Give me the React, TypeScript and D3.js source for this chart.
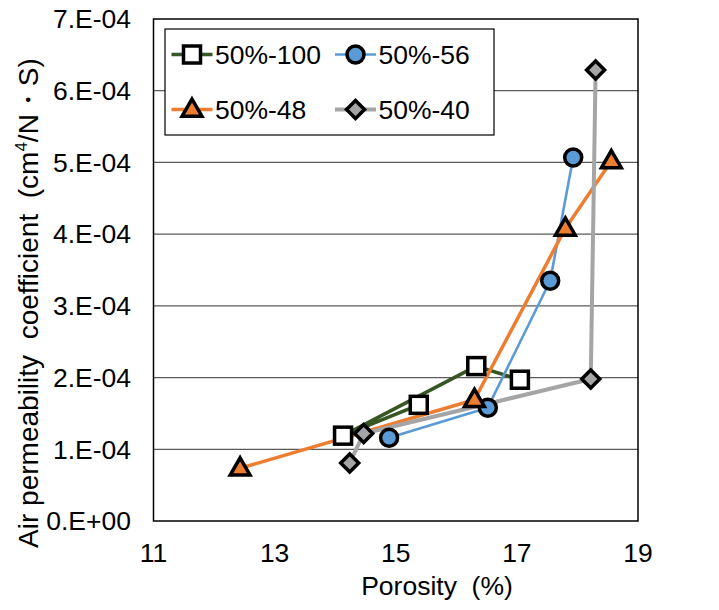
import React from "react";
import * as d3 from "d3";

const W = 719;
const H = 610;

const xTicks = [11, 13, 15, 17, 19];
const yTicks = [0, 1e-4, 2e-4, 3e-4, 4e-4, 5e-4, 6e-4, 7e-4];
const yTickLabels = ["0.E+00", "1.E-04", "2.E-04", "3.E-04", "4.E-04", "5.E-04", "6.E-04", "7.E-04"];

const s100x = [15.38, 14.13, 16.33, 17.05];
const s100y = [1.62e-4, 1.19e-4, 2.16e-4, 1.97e-4];
const s56x = [14.89, 16.52, 17.55, 17.93];
const s56y = [1.16e-4, 1.58e-4, 3.35e-4, 5.07e-4];
const s48x = [12.43, 16.3, 17.8, 18.56];
const s48y = [0.735e-4, 1.69e-4, 4.08e-4, 5.02e-4];
const s40x = [14.24, 14.47, 18.22, 18.3];
const s40y = [0.81e-4, 1.22e-4, 1.98e-4, 6.29e-4];

const seriesNames = ["50%-100", "50%-56", "50%-48", "50%-40"];
const lineColors = ["#375623", "#5B9BD5", "#ED7D31", "#A5A5A5"];
const lineWidths = [3.5, 2.6, 3.5, 4];
const fillColors = ["#FFFFFF", "#5B9BD5", "#ED7D31", "#A5A5A5"];
const shapes = ["square", "circle", "triangle", "diamond"];

const margin = { left: 153.5, right: 719 - 638, top: 19, bottom: 610 - 521 };
const FONT = "'Liberation Sans', Arial, sans-serif";
const FS = 26.5;

function Marker({ shape, cx, cy, fill }: { shape: string; cx: number; cy: number; fill: string }) {
  const sw = 3.5;
  if (shape === "square") {
    const s = 17;
    return <rect x={cx - s / 2} y={cy - s / 2} width={s} height={s} fill={fill} stroke="#000" strokeWidth={sw} />;
  }
  if (shape === "circle") {
    return <circle cx={cx} cy={cy} r={8.5} fill={fill} stroke="#000" strokeWidth={sw} />;
  }
  if (shape === "triangle") {
    const sym = d3.symbol(d3.symbolTriangle, 170)();
    return <path d={sym || ""} transform={`translate(${cx},${cy + 1})`} fill={fill} stroke="#000" strokeWidth={sw} strokeLinejoin="miter" />;
  }
  const r = 9;
  const d = `M${cx},${cy - r}L${cx + r},${cy}L${cx},${cy + r}L${cx - r},${cy}Z`;
  return <path d={d} fill={fill} stroke="#000" strokeWidth={sw} />;
}

export default function App() {
  const x = d3.scaleLinear().domain([11, 19]).range([margin.left, W - margin.right]);
  const y = d3.scaleLinear().domain([0, 7e-4]).range([H - margin.bottom, margin.top]);
  const allX = [s100x, s56x, s48x, s40x];
  const allY = [s100y, s56y, s48y, s40y];
  const line = d3
    .line<[number, number]>()
    .x((d) => x(d[0]))
    .y((d) => y(d[1]));

  const legendPos = [
    [171.5, 54.5],
    [335, 54.5],
    [171.5, 109.5],
    [335, 109.5],
  ];

  return (
    <svg width={W} height={H} style={{ position: "absolute", left: 0, top: 0, background: "#fff" }} fontFamily={FONT}>
      <rect x={0} y={0} width={W} height={H} fill="#fff" />
      {yTicks.slice(1, -1).map((t) => (
        <line key={t} x1={x(11)} x2={x(19)} y1={y(t)} y2={y(t)} stroke="#5a5a5a" strokeWidth={1.3} />
      ))}
      <rect x={x(11)} y={y(7e-4)} width={x(19) - x(11)} height={y(0) - y(7e-4)} fill="none" stroke="#000" strokeWidth={1.5} />
      {yTicks.map((t, i) => (
        <text key={t} x={131} y={y(t)} dy="0.35em" textAnchor="end" fontSize={FS} fill="#000">
          {yTickLabels[i]}
        </text>
      ))}
      {xTicks.map((t) => (
        <text key={t} x={x(t)} y={562} textAnchor="middle" fontSize={FS} fill="#000">
          {t}
        </text>
      ))}
      <text x={437} y={595} textAnchor="middle" fontSize={FS} fill="#000" style={{ whiteSpace: "pre" }}>
        {"Porosity  (%)"}
      </text>
      <text
        transform={`translate(38,303) rotate(-90)`}
        textAnchor="middle"
        fontSize={28}
        fill="#000"
        style={{ whiteSpace: "pre" }}
      >
        {"Air permeability  coefficient  (cm"}
        <tspan fontSize={17} dy={-11}>4</tspan>
        <tspan dy={11}>{"/N・S)"}</tspan>
      </text>
      {allX.map((xs, si) => {
        const pts = xs.map((v, i) => [v, allY[si][i]] as [number, number]);
        return (
          <path key={si} d={line(pts) || ""} fill="none" stroke={lineColors[si]} strokeWidth={lineWidths[si]} strokeLinejoin="round" />
        );
      })}
      {allX.map((xs, si) =>
        xs.map((v, i) => (
          <Marker key={`${si}-${i}`} shape={shapes[si]} cx={x(v)} cy={y(allY[si][i])} fill={fillColors[si]} />
        ))
      )}
      <rect x={165} y={29} width={329} height={106} fill="#fff" stroke="#000" strokeWidth={1.2} />
      {seriesNames.map((n, i) => {
        const [lx, ly] = legendPos[i];
        return (
          <g key={n}>
            <line x1={lx} x2={lx + 41} y1={ly} y2={ly} stroke={lineColors[i]} strokeWidth={lineWidths[i]} />
            <Marker shape={shapes[i]} cx={lx + 20.5} cy={ly} fill={fillColors[i]} />
            <text x={lx + 43.5} y={ly} dy="0.35em" fontSize={FS} fill="#000">
              {n}
            </text>
          </g>
        );
      })}
    </svg>
  );
}
